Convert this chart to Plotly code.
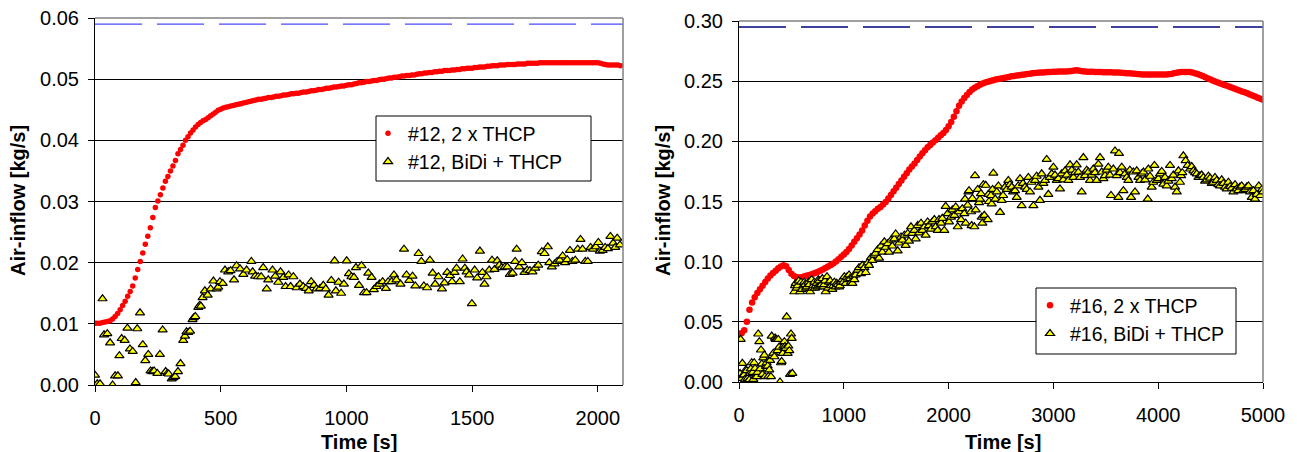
import plotly.graph_objects as go

# ---------------- data: left chart (#12) ----------------
L_RED_T = [0, 10, 20, 30, 40, 50, 60, 70, 80, 90, 100, 110, 120, 130, 140, 150, 160, 170, 180, 190,
           200, 210, 220, 230, 240, 250, 260, 270, 280, 290, 300, 310, 320, 330, 340, 350, 360, 370, 380, 390,
           400, 410, 420, 430, 440, 450, 460, 470, 480, 490, 500, 510, 520, 530, 540, 550, 560, 570, 580, 590,
           600, 610, 620, 630, 640, 650, 660, 670, 680, 690, 700, 710, 720, 730, 740, 750, 760, 770, 780, 790,
           800, 810, 820, 830, 840, 850, 860, 870, 880, 890, 900, 910, 920, 930, 940, 950, 960, 970, 980, 990,
           1000, 1010, 1020, 1030, 1040, 1050, 1060, 1070, 1080, 1090, 1100, 1110, 1120, 1130, 1140, 1150, 1160, 1170, 1180, 1190,
           1200, 1210, 1220, 1230, 1240, 1250, 1260, 1270, 1280, 1290, 1300, 1310, 1320, 1330, 1340, 1350, 1360, 1370, 1380, 1390,
           1400, 1410, 1420, 1430, 1440, 1450, 1460, 1470, 1480, 1490, 1500, 1510, 1520, 1530, 1540, 1550, 1560, 1570, 1580, 1590,
           1600, 1610, 1620, 1630, 1640, 1650, 1660, 1670, 1680, 1690, 1700, 1710, 1720, 1730, 1740, 1750, 1760, 1770, 1780, 1790,
           1800, 1810, 1820, 1830, 1840, 1850, 1860, 1870, 1880, 1890, 1900, 1910, 1920, 1930, 1940, 1950, 1960, 1970, 1980, 1990,
           2000, 2010, 2020, 2030, 2040, 2050, 2060, 2070, 2080, 2090]
L_RED_V = [.0101, .0101, .0101, .0102, .0103, .0104, .0105, .0108, .0112, .0117, .0123, .0130, .0137, .0145, .0153, .0162, .0175, .0189, .0202, .0216,
           .0230, .0243, .0257, .0274, .0290, .0301, .0311, .0322, .0333, .0341, .0350, .0358, .0367, .0378, .0385, .0392, .0400, .0406, .0412, .0417,
           .0422, .0426, .0429, .0432, .0434, .0437, .0440, .0443, .0446, .0449, .0451, .0453, .0454, .0455, .0456, .0457, .0458, .0459, .0460, .0461,
           .0462, .0463, .0464, .0465, .0466, .0467, .0467, .0468, .0469, .0470, .0470, .0471, .0472, .0472, .0473, .0474, .0474, .0475, .0476, .0476,
           .0477, .0477, .0478, .0479, .0479, .0480, .0481, .0481, .0482, .0483, .0483, .0484, .0485, .0485, .0486, .0487, .0487, .0488, .0489, .0489,
           .0490, .0491, .0491, .0492, .0493, .0494, .0494, .0495, .0496, .0496, .0497, .0498, .0498, .0499, .0500, .0500, .0501, .0502, .0502, .0503,
           .0503, .0504, .0505, .0505, .0506, .0506, .0507, .0507, .0508, .0509, .0509, .0510, .0510, .0511, .0511, .0512, .0512, .0513, .0513, .0514,
           .0514, .0514, .0515, .0515, .0516, .0516, .0517, .0517, .0518, .0518, .0518, .0519, .0519, .0520, .0520, .0520, .0521, .0521, .0522, .0522,
           .0522, .0523, .0523, .0523, .0524, .0524, .0524, .0524, .0525, .0525, .0525, .0525, .0526, .0526, .0526, .0526, .0526, .0527, .0527, .0527,
           .0527, .0527, .0527, .0527, .0527, .0527, .0527, .0527, .0527, .0527, .0527, .0527, .0527, .0527, .0527, .0527, .0527, .0527, .0527, .0527,
           .0527, .0526, .0525, .0524, .0523, .0523, .0523, .0523, .0523, .0522]

L_BIDI_T = [0, 9, 20, 30, 36, 49, 60, 70, 80, 91, 97, 106, 118, 129, 139, 150, 162, 168, 179, 190,
            200, 212, 221, 228, 235, 248, 258, 269, 281, 288, 293, 305, 312, 319, 330, 340, 351, 358, 364, 371,
            378, 388, 393, 399, 411, 416, 421, 428, 437, 448, 460, 471, 484, 490, 497, 508, 517, 530, 539, 553,
            563, 577, 590, 603, 622, 627, 637, 649, 661, 669, 683, 689, 706, 717, 729, 738, 749, 758, 770, 778,
            789, 802, 815, 828, 839, 850, 860, 871, 881, 895, 908, 918, 929, 940, 953, 958, 969, 979, 990, 1001,
            1010, 1020, 1030, 1038, 1050, 1060, 1070, 1080, 1087, 1100, 1109, 1120, 1131, 1144, 1157, 1166, 1180, 1189, 1199, 1215,
            1229, 1239, 1250, 1263, 1274, 1287, 1298, 1308, 1321, 1332, 1343, 1353, 1366, 1380, 1390, 1401, 1412, 1420, 1430, 1438,
            1451, 1462, 1471, 1478, 1488, 1499, 1510, 1520, 1531, 1541, 1549, 1557, 1568, 1579, 1589, 1600, 1608, 1618, 1630, 1640,
            1650, 1661, 1671, 1677, 1687, 1698, 1708, 1719, 1730, 1740, 1751, 1763, 1777, 1788, 1801, 1807, 1817, 1828, 1838, 1849,
            1860, 1870, 1878, 1889, 1899, 1910, 1920, 1931, 1939, 1950, 1960, 1971, 1981, 1992, 2002, 2008, 2019, 2029, 2040, 2050,
            2061, 2069, 2077, 2088]
L_BIDI_V = [.0016, .0002, .0002, .0141, .0082, .0084, .0069, .0000, .0015, .0015, .0048, .0076, .0073, .0093, .0059, .0055, .0004, .0092, .0118, .0066,
            .0040, .0050, .0023, .0022, .0023, .0019, .0050, .0090, .0022, .0019, .0018, .0010, .0012, .0014, .0022, .0035, .0073, .0080, .0087, .0086,
            .0088, .0107, .0110, .0112, .0127, .0130, .0129, .0143, .0154, .0147, .0157, .0170, .0157, .0160, .0169, .0166, .0188, .0185, .0187, .0172,
            .0195, .0190, .0181, .0188, .0202, .0185, .0178, .0177, .0177, .0192, .0157, .0172, .0188, .0178, .0168, .0185, .0176, .0161, .0180, .0161,
            .0177, .0159, .0165, .0161, .0158, .0154, .0169, .0163, .0157, .0158, .0163, .0157, .0147, .0171, .0203, .0154, .0168, .0150, .0165, .0203,
            .0182, .0177, .0176, .0192, .0163, .0195, .0151, .0151, .0183, .0176, .0156, .0161, .0165, .0169, .0158, .0169, .0169, .0180, .0172, .0165,
            .0222, .0180, .0171, .0178, .0162, .0215, .0202, .0162, .0159, .0204, .0183, .0165, .0177, .0157, .0167, .0184, .0179, .0169, .0184, .0191,
            .0169, .0206, .0191, .0185, .0180, .0133, .0188, .0175, .0219, .0184, .0165, .0177, .0188, .0204, .0189, .0203, .0196, .0192, .0193, .0193,
            .0181, .0183, .0202, .0222, .0193, .0200, .0184, .0188, .0187, .0185, .0191, .0196, .0218, .0215, .0226, .0200, .0193, .0198, .0202, .0204,
            .0211, .0200, .0205, .0220, .0202, .0204, .0222, .0238, .0222, .0202, .0202, .0225, .0222, .0226, .0233, .0219, .0220, .0225, .0223, .0243,
            .0232, .0225, .0240, .0229]

L_LIMIT = 0.059
L_XMAX = 2100
L_YMAX = 0.06

# ---------------- data: right chart (#16) ----------------
R_RED_T = [0, 25, 50, 75, 100, 125, 150, 175, 200, 225, 250, 275, 300, 325, 350, 375, 400, 425, 450, 475,
           500, 525, 550, 575, 600, 625, 650, 675, 700, 725, 750, 775, 800, 825, 850, 875, 900, 925, 950, 975,
           1000, 1025, 1050, 1075, 1100, 1125, 1150, 1175, 1200, 1225, 1250, 1275, 1300, 1325, 1350, 1375, 1400, 1425, 1450, 1475,
           1500, 1525, 1550, 1575, 1600, 1625, 1650, 1675, 1700, 1725, 1750, 1775, 1800, 1825, 1850, 1875, 1900, 1925, 1950, 1975,
           2000, 2025, 2050, 2075, 2100, 2125, 2150, 2175, 2200, 2225, 2250, 2275, 2300, 2325, 2350, 2375, 2400, 2425, 2450, 2475,
           2500, 2525, 2550, 2575, 2600, 2625, 2650, 2675, 2700, 2725, 2750, 2775, 2800, 2825, 2850, 2875, 2900, 2925, 2950, 2975,
           3000, 3025, 3050, 3075, 3100, 3125, 3150, 3175, 3200, 3225, 3250, 3275, 3300, 3325, 3350, 3375, 3400, 3425, 3450, 3475,
           3500, 3525, 3550, 3575, 3600, 3625, 3650, 3675, 3700, 3725, 3750, 3775, 3800, 3825, 3850, 3875, 3900, 3925, 3950, 3975,
           4000, 4025, 4050, 4075, 4100, 4125, 4150, 4175, 4200, 4225, 4250, 4275, 4300, 4325, 4350, 4375, 4400, 4425, 4450, 4475,
           4500, 4525, 4550, 4575, 4600, 4625, 4650, 4675, 4700, 4725, 4750, 4775, 4800, 4825, 4850, 4875, 4900, 4925, 4950, 4975,
           5000]
R_RED_V = [.0400, .0405, .0430, .0500, .0600, .0660, .0705, .0740, .0770, .0800, .0830, .0860, .0885, .0905, .0925, .0945, .0960, .0970, .0962, .0930,
           .0900, .0880, .0870, .0868, .0870, .0878, .0885, .0890, .0898, .0905, .0915, .0925, .0935, .0948, .0960, .0972, .0985, .1002, .1020, .1040,
           .1060, .1080, .1105, .1135, .1165, .1195, .1225, .1260, .1300, .1340, .1375, .1400, .1420, .1440, .1455, .1475, .1495, .1525, .1555, .1585,
           .1615, .1645, .1675, .1705, .1735, .1765, .1790, .1815, .1845, .1875, .1900, .1925, .1950, .1970, .1990, .2010, .2030, .2050, .2070, .2095,
           .2125, .2160, .2205, .2250, .2295, .2330, .2360, .2385, .2410, .2430, .2445, .2458, .2470, .2480, .2488, .2495, .2502, .2508, .2513, .2518,
           .2523, .2527, .2531, .2535, .2540, .2543, .2547, .2550, .2553, .2556, .2560, .2562, .2565, .2567, .2569, .2571, .2573, .2575, .2576, .2577,
           .2578, .2579, .2580, .2580, .2581, .2581, .2582, .2584, .2588, .2590, .2586, .2582, .2580, .2579, .2578, .2578, .2577, .2577, .2576, .2575,
           .2575, .2574, .2574, .2573, .2572, .2571, .2570, .2568, .2566, .2565, .2563, .2561, .2559, .2557, .2556, .2555, .2555, .2555, .2555, .2555,
           .2555, .2555, .2556, .2556, .2557, .2560, .2565, .2570, .2574, .2576, .2577, .2577, .2576, .2572, .2566, .2560, .2552, .2543, .2533, .2523,
           .2513, .2504, .2495, .2487, .2479, .2471, .2463, .2455, .2447, .2439, .2431, .2423, .2415, .2407, .2399, .2390, .2381, .2372, .2363, .2354,
           .2345]

R_BIDI_T = [0, 10, 16, 25, 32, 41, 48, 57, 65, 73, 82, 89, 99, 105, 112, 121, 130, 137, 145, 153,
            160, 169, 176, 184, 194, 202, 210, 218, 223, 232, 242, 248, 256, 264, 274, 280, 289, 297, 305, 312,
            320, 328, 337, 344, 350, 359, 367, 375, 383, 391, 401, 407, 417, 425, 433, 439, 445, 455, 464, 471,
            480, 487, 496, 503, 509,
            528, 535, 541, 550, 560, 570, 582, 592, 600, 614, 622, 630, 640, 646, 662, 670, 678, 693, 700, 709,
            718, 725, 733, 741, 750, 757, 765, 773, 785, 795, 805, 814, 820, 827, 840, 850, 859, 870, 878, 891,
            900, 910, 922, 932, 941, 954, 962, 973, 986, 995, 1005, 1018, 1028, 1037, 1050, 1060, 1069, 1082, 1090, 1101,
            1113, 1132, 1145, 1164, 1177, 1196, 1209, 1228, 1241, 1260, 1272, 1291, 1304, 1323, 1336, 1355, 1368, 1387, 1400, 1419,
            1431, 1451, 1463, 1482, 1495, 1514, 1527, 1546, 1559, 1578, 1590, 1610, 1622, 1641, 1654, 1673, 1686, 1705, 1718, 1737,
            1750, 1769, 1781, 1800, 1813, 1832, 1845, 1864, 1877, 1896, 1909, 1928, 1940, 1959, 1972, 1991, 2004, 2023, 2036, 2055,
            2068, 2087, 2099, 2119, 2131, 2150, 2157, 2163, 2182, 2189, 2195, 2214, 2220, 2227, 2246, 2252, 2259, 2278, 2290, 2300,
            2309, 2316, 2322, 2332, 2341, 2354, 2373, 2380, 2386, 2405, 2411, 2420, 2427, 2445, 2460, 2475, 2491, 2507, 2520, 2538,
            2555, 2570, 2585, 2602, 2615, 2634, 2650, 2665, 2682, 2697, 2710, 2729, 2745, 2761, 2777, 2790, 2809, 2825, 2840, 2857,
            2872, 2888, 2905, 2920, 2936, 2952, 2965, 2984, 3000, 3015, 3032, 3048, 3063, 3079, 3095, 3111, 3127, 3143, 3159, 3175,
            3191, 3207, 3222, 3238, 3254, 3270, 3286, 3302, 3318, 3333, 3349, 3365, 3381, 3397, 3413, 3429, 3445, 3461, 3477, 3492,
            3508, 3524, 3540, 3550, 3572, 3588, 3604, 3620, 3626, 3636, 3652, 3668, 3684, 3700, 3715, 3730, 3741, 3763, 3779, 3795,
            3812, 3827, 3843, 3859, 3875, 3900, 3906, 3922, 3938, 3952, 3964, 3986, 4002, 4018, 4034, 4049, 4065, 4081, 4097, 4113,
            4129, 4145, 4161, 4177, 4193, 4208, 4218, 4230, 4240, 4262, 4281, 4304, 4320, 4336, 4352, 4368, 4384, 4399, 4415, 4431,
            4447, 4463, 4479, 4495, 4511, 4527, 4542, 4558, 4574, 4590, 4606, 4622, 4638, 4654, 4670, 4686, 4702, 4718, 4733, 4749,
            4765, 4781, 4797, 4813, 4829, 4845, 4861, 4877, 4893, 4908, 4924, 4940, 4960, 4975, 4990, 5000]
R_BIDI_V = [.0064, .0070, .0354, .0030, .0155, .0058, .0060, .0022, .0100, .0094, .0030, .0008, .0020, .0072, .0110, .0160, .0080, .0022, .0160, .0113,
            .0050, .0044, .0080, .0399, .0335, .0110, .0266, .0150, .0064, .0200, .0224, .0044, .0130, .0160, .0133, .0047, .0100, .0180, .0044, .0382,
            .0220, .0240, .0210, .0365, .0354, .0354, .0260, .0354, .0290, .0000, .0160, .0171, .0238, .0300, .0335, .0296, .0280, .0542, .0238, .0299,
            .0260, .0064, .0399, .0363, .0072,
            .0750, .0800, .0820, .0780, .0800, .0840, .0750, .0830, .0770, .0800, .0830, .0810, .0780, .0790, .0830, .0810, .0750, .0850, .0780, .0800,
            .0830, .0780, .0800, .0820, .0790, .0850, .0840, .0800, .0810, .0860, .0790, .0810, .0840, .0750, .0875, .0780, .0830, .0840, .0800, .0770,
            .0800, .0830, .0790, .0820, .0810, .0790, .0800, .0830, .0850, .0830, .0875, .0820, .0870, .0850, .0890, .0860, .0830, .0820, .0880, .0850,
            .0890, .0930, .0950, .0900, .0970, .0950, .0910, .0990, .0970, .1035, .1010, .1055, .1070, .1100, .1030, .1130, .1080, .1165, .1120, .1150,
            .1080, .1180, .1130, .1190, .1230, .1090, .1155, .1205, .1180, .1220, .1135, .1235, .1170, .1290, .1235, .1260, .1190, .1300, .1240, .1320,
            .1260, .1290, .1220, .1330, .1300, .1270, .1330, .1350, .1290, .1260, .1350, .1320, .1360, .1260, .1460, .1400, .1330, .1370, .1430, .1385,
            .1455, .1290, .1415, .1350, .1440, .1400, .1520, .1320, .1470, .1580, .1590, .1415, .1300, .1525, .1290, .1715, .1430, .1600, .1490, .1520,
            .1565, .1370, .1320, .1640, .1385, .1635, .1350, .1560, .1500, .1550, .1480, .1600, .1735, .1520, .1580, .1630, .1410, .1510, .1550, .1620,
            .1600, .1675, .1640, .1620, .1580, .1590, .1535, .1630, .1690, .1465, .1650, .1620, .1600, .1700, .1580, .1660, .1465, .1675, .1710, .1620,
            .1510, .1730, .1650, .1675, .1850, .1560, .1700, .1730, .1785, .1720, .1675, .1690, .1605, .1730, .1680, .1755, .1720, .1675, .1805, .1760,
            .1700, .1740, .1805, .1745, .1700, .1580, .1865, .1715, .1760, .1745, .1675, .1720, .1770, .1740, .1675, .1810, .1865, .1745, .1690, .1715,
            .1760, .1785, .1720, .1550, .1770, .1920, .1715, .1535, .1900, .1740, .1785, .1590, .1730, .1700, .1675, .1760, .1535, .1745, .1580, .1755,
            .1700, .1675, .1730, .1745, .1680, .1520, .1770, .1710, .1620, .1660, .1800, .1675, .1690, .1730, .1750, .1645, .1700, .1630, .1670, .1800,
            .1690, .1720, .1620, .1580, .1755, .1660, .1715, .1740, .1880, .1840, .1800, .1770, .1790, .1755, .1740, .1730, .1700, .1715, .1720, .1700,
            .1670, .1680, .1710, .1695, .1650, .1660, .1700, .1675, .1640, .1630, .1680, .1650, .1620, .1605, .1660, .1625, .1610, .1580, .1640, .1605,
            .1590, .1620, .1630, .1590, .1600, .1620, .1630, .1580, .1535, .1590, .1520, .1560, .1630, .1550, .1600, .1580]

R_LIMIT = 0.295
R_XMAX = 5000
R_YMAX = 0.30

# ---------------- style ----------------
FONT = "Liberation Sans, Arial, sans-serif"
W, H = 1297, 452
L_BOX = dict(x0=95, x1=623, y0=18, y1=385)      # pixel frame of left plot area
R_BOX = dict(x0=739, x1=1263, y0=21, y1=382)    # pixel frame of right plot area


def px_x(p):
    return p / W


def px_y(p):
    return (H - p) / H


fig = go.Figure()

red_marker_l = dict(symbol="circle", size=5.5, color="#FF0000", line=dict(width=0))
red_marker_r = dict(symbol="circle", size=6.5, color="#FF0000", line=dict(width=0))
tri_marker = dict(symbol="triangle-up", size=8, color="#FFFF00", line=dict(width=1.2, color="#000000"))

fig.add_trace(go.Scatter(x=[0, L_XMAX], y=[L_LIMIT, L_LIMIT], mode="lines",
                         line=dict(color="#4a4aff", width=1.3, dash="47px,15px"),
                         showlegend=False, hoverinfo="skip", xaxis="x", yaxis="y"))
fig.add_trace(go.Scatter(x=L_RED_T, y=L_RED_V, mode="markers", name="#12, 2 x THCP",
                         marker=red_marker_l, xaxis="x", yaxis="y", legend="legend"))
fig.add_trace(go.Scatter(x=L_BIDI_T, y=L_BIDI_V, mode="markers", name="#12, BiDi + THCP",
                         marker=tri_marker, xaxis="x", yaxis="y", legend="legend"))

fig.add_trace(go.Scatter(x=[0, R_XMAX], y=[R_LIMIT, R_LIMIT], mode="lines",
                         line=dict(color="#000080", width=1.5, dash="47px,15px"),
                         showlegend=False, hoverinfo="skip", xaxis="x2", yaxis="y2"))
fig.add_trace(go.Scatter(x=R_RED_T, y=R_RED_V, mode="markers", name="#16, 2 x THCP",
                         marker=red_marker_r, xaxis="x2", yaxis="y2", legend="legend2"))
fig.add_trace(go.Scatter(x=R_BIDI_T, y=R_BIDI_V, mode="markers", name="#16, BiDi + THCP",
                         marker=tri_marker, xaxis="x2", yaxis="y2", legend="legend2"))

axis_common = dict(showline=True, linecolor="#000000", linewidth=1, ticks="outside", ticklen=6,
                   tickcolor="#000000", tickwidth=1, zeroline=False, automargin=False,
                   tickfont=dict(family=FONT, size=20, color="#000000"))

fig.update_layout(
    width=W, height=H,
    margin=dict(l=0, r=0, t=0, b=0, pad=0, autoexpand=False),
    paper_bgcolor="white", plot_bgcolor="white",
    font=dict(family=FONT, size=19, color="#000000"),
    xaxis=dict(domain=[px_x(L_BOX["x0"]), px_x(L_BOX["x1"])], range=[0, L_XMAX], tick0=0, dtick=500,
               showgrid=False, anchor="y", ticklabelstandoff=9, **axis_common),
    yaxis=dict(domain=[px_y(L_BOX["y1"]), px_y(L_BOX["y0"])], range=[0, L_YMAX], tick0=0, dtick=0.01,
               tickformat=".2f", showgrid=True, gridcolor="#000000", gridwidth=1, anchor="x",
               ticklabelstandoff=5, **axis_common),
    xaxis2=dict(domain=[px_x(R_BOX["x0"]), px_x(R_BOX["x1"])], range=[0, R_XMAX], tick0=0, dtick=1000,
                showgrid=False, anchor="y2", ticklabelstandoff=9, **axis_common),
    yaxis2=dict(domain=[px_y(R_BOX["y1"]), px_y(R_BOX["y0"])], range=[0, R_YMAX], tick0=0, dtick=0.05,
                tickformat=".2f", showgrid=True, gridcolor="#000000", gridwidth=1, anchor="x2",
                ticklabelstandoff=5, **axis_common),
    legend=dict(x=px_x(368), y=px_y(114), xanchor="left", yanchor="top",
                bgcolor="rgba(0,0,0,0)", borderwidth=0, font=dict(family=FONT, size=19.5),
                tracegroupgap=0),
    legend2=dict(x=px_x(1030), y=px_y(286), xanchor="left", yanchor="top",
                 bgcolor="rgba(0,0,0,0)", borderwidth=0, font=dict(family=FONT, size=19.5),
                 tracegroupgap=0),
    showlegend=True,
)

# frame: grey top and right borders of each plot area
shapes = []
for xa, ya in (("x", "y"), ("x2", "y2")):
    shapes.append(dict(type="line", xref=f"{xa} domain", yref=f"{ya} domain", x0=0, x1=1, y0=1, y1=1,
                       line=dict(color="#808080", width=1.5), layer="above"))
    shapes.append(dict(type="line", xref=f"{xa} domain", yref=f"{ya} domain", x0=1, x1=1, y0=0, y1=1,
                       line=dict(color="#808080", width=1.5), layer="above"))
# legend boxes
shapes.append(dict(type="rect", xref="paper", yref="paper", x0=px_x(376), x1=px_x(591),
                   y0=px_y(181), y1=px_y(116), fillcolor="white",
                   line=dict(color="#000000", width=1), layer="above"))
shapes.append(dict(type="rect", xref="paper", yref="paper", x0=px_x(1036), x1=px_x(1236),
                   y0=px_y(354), y1=px_y(288), fillcolor="white",
                   line=dict(color="#000000", width=1), layer="above"))
fig.update_layout(shapes=shapes)

title_font = dict(family=FONT, size=20, color="#000000", weight="bold")
annotations = [
    dict(text="<b>Air-inflow [kg/s]</b>", x=px_x(18), y=px_y(201), xref="paper", yref="paper",
         textangle=-90, showarrow=False, xanchor="center", yanchor="middle", font=title_font),
    dict(text="<b>Air-inflow [kg/s]</b>", x=px_x(663), y=px_y(201), xref="paper", yref="paper",
         textangle=-90, showarrow=False, xanchor="center", yanchor="middle", font=title_font),
    dict(text="<b>Time [s]</b>", x=px_x(359), y=px_y(442), xref="paper", yref="paper",
         showarrow=False, xanchor="center", yanchor="middle", font=title_font),
    dict(text="<b>Time [s]</b>", x=px_x(1003), y=px_y(442), xref="paper", yref="paper",
         showarrow=False, xanchor="center", yanchor="middle", font=title_font),
]
fig.update_layout(annotations=annotations)

fig.write_html("out.html")
